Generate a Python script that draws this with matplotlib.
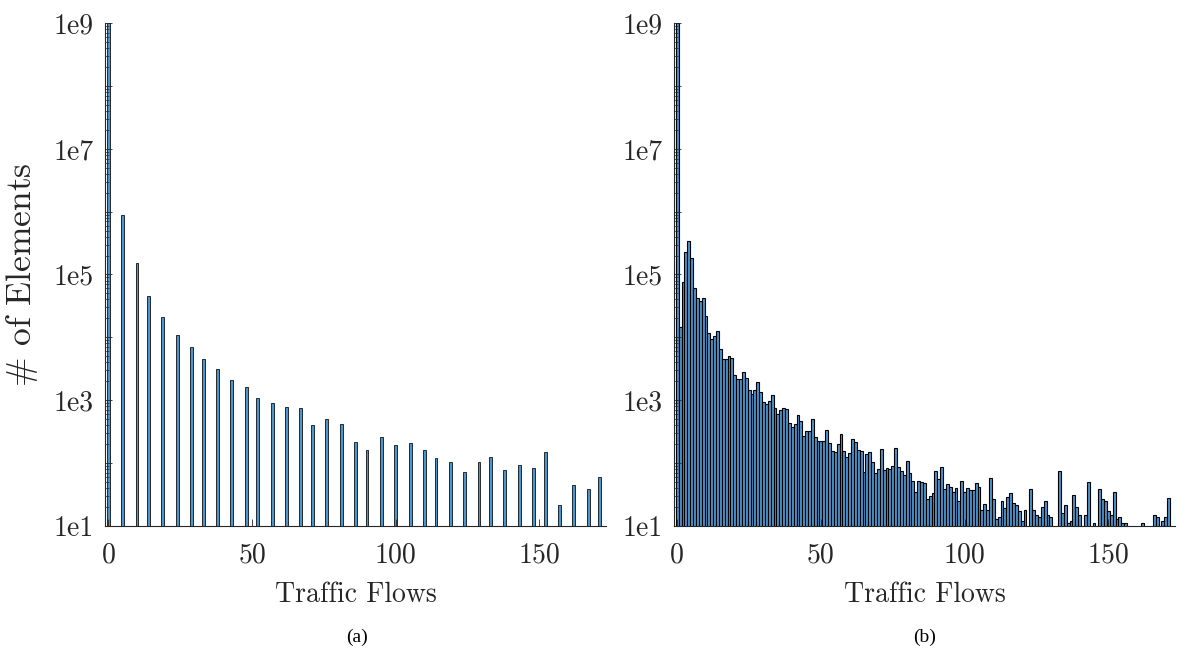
import matplotlib
matplotlib.use('Agg')
import matplotlib.pyplot as plt
import numpy as np
from matplotlib.ticker import LogLocator, NullFormatter

# (a) histogram: only a few bins are filled
flows_a = [0, 5, 10, 14, 19, 24, 29, 33, 38, 43, 48, 52, 57, 62, 67, 71, 76, 81,
           86, 90, 95, 100, 105, 110, 114, 119, 124, 129, 133, 138, 143, 148,
           152, 157, 162, 167, 171]
counts_a = [1e9, 8.9e5, 1.55e5, 4.6e4, 2.1e4, 1.1e4, 7.1e3, 4.5e3, 3.1e3, 2.1e3,
            1.6e3, 1.09e3, 910, 773, 743, 406, 509, 421, 215, 160, 258, 195, 210,
            158, 118, 104, 72, 102, 124, 76, 91, 84, 149, 21, 45, 39, 60]

# (b) histogram: one bin per flow count 0..171
counts_b = [1e9, 1.48e4, 7.5e4, 2.25e5, 3.37e5, 1.83e5, 6.2e4, 4.17e4, 3.73e4, 4.17e4,
            2.15e4, 1.16e4, 9.4e3, 1.05e4, 1.27e4, 6.5e3, 4.45e3, 4.56e3, 5.1e3, 4.73e3,
            2.48e3, 2.16e3, 2.16e3, 2.83e3, 2.24e3, 1.45e3, 1.23e3, 1.46e3, 1.96e3, 1.33e3,
            931, 865, 977, 1190, 748, 600, 695, 757, 721, 437,
            368, 421, 571, 458, 268, 326, 326, 493, 255, 226,
            226, 226, 330, 210, 155, 147, 202, 292, 153, 122,
            144, 237, 215, 162, 156, 72, 138, 149, 102, 70,
            80, 166, 76, 83, 79, 88, 175, 85, 74, 63,
            107, 68, 51, 34, 51, 50, 48, 27, 30, 33,
            74, 55, 87, 38, 46, 41, 35, 40, 25, 52,
            35, 40, 37, 37, 47, 41, 18, 22, 18, 57,
            27, 13, 14, 25, 19, 29, 33, 23, 21, 17,
            12, 18, 0, 38, 18, 15, 14, 20, 25, 15,
            14, 0, 0, 74, 16, 21, 11, 12, 31, 20,
            15, 0, 15, 49, 0, 11, 0, 38, 27, 25,
            17, 15, 35, 13, 14, 11, 11, 0, 0, 0,
            0, 0, 11, 0, 0, 0, 15, 14, 0, 12,
            14, 28]
flows_b = np.arange(len(counts_b))

ytick_labels = ['1e1', '', '1e3', '', '1e5', '', '1e7', '', '1e9']
xtick_vals = [0, 50, 100, 150]

plt.rcParams['font.family'] = 'serif'
plt.rcParams['font.serif'] = ['cmr10']
plt.rcParams['mathtext.fontset'] = 'cm'
plt.rcParams['axes.unicode_minus'] = False
plt.rcParams['axes.formatter.use_mathtext'] = True

face = '#4d95cb'
txt = '#262626'

fig = plt.figure(figsize=(11.85, 6.51), dpi=100)
ax1 = fig.add_axes([0.0885, 0.1925, 0.4232, 0.7717])
ax2 = fig.add_axes([0.5686, 0.1925, 0.4232, 0.7717])


def style(ax):
    ax.set_yscale('log')
    ax.set_ylim(10, 1e9)
    ax.set_xlim(-1.2, 173.3)
    ax.spines['top'].set_visible(False)
    ax.spines['right'].set_visible(False)
    for s in ['left', 'bottom']:
        ax.spines[s].set_color(txt)
        ax.spines[s].set_linewidth(0.8)
    ax.set_yticks([10.0 ** k for k in range(1, 10)])
    ax.set_yticklabels(ytick_labels)
    ax.yaxis.set_minor_locator(LogLocator(base=10, subs=np.arange(2, 10), numticks=20))
    ax.yaxis.set_minor_formatter(NullFormatter())
    ax.set_xticks(xtick_vals)
    ax.set_xticklabels([str(v) for v in xtick_vals])
    ax.tick_params(which='major', direction='in', length=5, width=0.6, colors=txt,
                   labelsize=20, pad=8)
    ax.tick_params(axis='x', pad=12)
    ax.tick_params(which='minor', direction='in', length=3, width=0.5, colors=txt)
    ax.set_xlabel('Traffic Flows', fontsize=20, color=txt, labelpad=9)


ax1.bar(flows_a, counts_a, width=1.0, color=face, edgecolor='black', linewidth=0.55)
ax2.bar(flows_b, counts_b, width=1.0, color=face, edgecolor='black', linewidth=0.8)
style(ax1)
style(ax2)

fig.text(22 / 1185, 0.578, r'$\#$ of Elements', rotation=90, ha='center', va='center',
         fontsize=25.5, color=txt)

fig.text(0.3013, 0.0215, '(a)', ha='center', va='center', fontsize=14,
         family='Liberation Serif')
fig.text(0.7805, 0.0215, '(b)', ha='center', va='center', fontsize=14,
         family='Liberation Serif')

fig.savefig('out.png', dpi=100)
